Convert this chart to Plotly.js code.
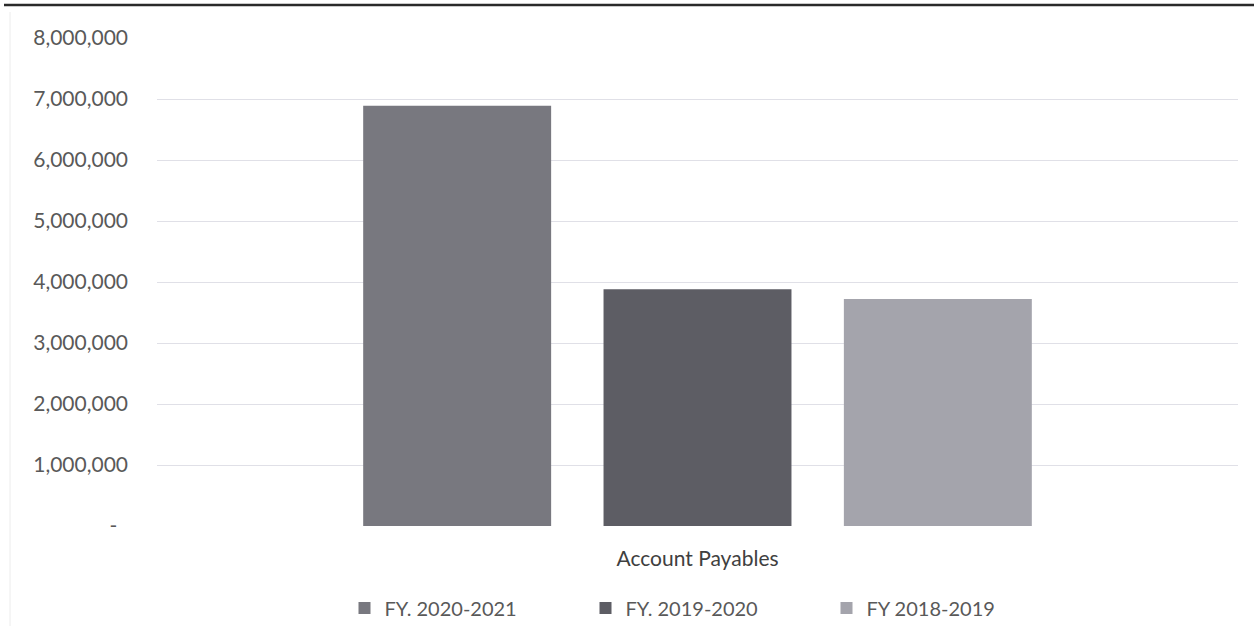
<!DOCTYPE html>
<html>
<head>
<meta charset="utf-8">
<script src="https://cdn.plot.ly/plotly-3.0.1.min.js"></script>
<style>
  html, body { margin: 0; padding: 0; background: #ffffff; }
  #chart { width: 1254px; height: 644px; }
</style>
</head>
<body>
<div id="chart"></div>
<script>
// Account payables by fiscal year
const categories = ["Account Payables"];
const seriesNames = ["FY. 2020-2021", "FY. 2019-2020", "FY 2018-2019"];
const fy2021 = [6890000];
const fy2020 = [3880000];
const fy2019 = [3720000];
const seriesColors = ["#78787f", "#5d5d64", "#a4a4ac"];

const yTickVals = [0, 1000000, 2000000, 3000000, 4000000, 5000000, 6000000, 7000000, 8000000];
const yTickText = ["-  ", "1,000,000", "2,000,000", "3,000,000", "4,000,000",
                   "5,000,000", "6,000,000", "7,000,000", "8,000,000"];

const seriesValues = [fy2021, fy2020, fy2019];
const traces = seriesValues.map((vals, i) => ({
  type: "bar",
  name: seriesNames[i],
  x: categories,
  y: vals,
  marker: { color: seriesColors[i], line: { width: 0 } },
  hoverinfo: "y+name"
}));

const W = 1254, H = 644;
const mL = 157, mR = 16, mT = 38, mB = 118;
const pw = W - mL - mR, ph = H - mT - mB;
const px = v => (v - mL) / pw;   // pixel -> paper x
const py = v => (H - mB - v) / ph; // pixel -> paper y

const layout = {
  width: W,
  height: H,
  margin: { l: mL, r: mR, t: mT, b: mB, pad: 0 },
  paper_bgcolor: "#ffffff",
  plot_bgcolor: "#ffffff",
  font: { family: "Lato, 'Open Sans', sans-serif", color: "#595959" },
  barmode: "group",
  bargap: 0.333,
  bargroupgap: 0.218,
  showlegend: true,
  legend: {
    orientation: "h",
    x: px(706),
    xanchor: "center",
    y: py(608),
    yanchor: "middle",
    font: { size: 20, color: "#595959" },
    entrywidth: 196,
    itemwidth: 30,
    traceorder: "normal"
  },
  xaxis: {
    type: "category",
    showgrid: false,
    showline: false,
    zeroline: false,
    ticks: "",
    ticklabelstandoff: 18,
    tickfont: { size: 21, color: "#404040" }
  },
  yaxis: {
    range: [0, 8000000],
    tickmode: "array",
    tickvals: yTickVals,
    ticktext: yTickText,
    showgrid: true,
    gridcolor: "#e0e0e7",
    gridwidth: 1,
    zeroline: false,
    showline: false,
    ticks: "",
    ticklabelstandoff: 28,
    tickfont: { size: 21, color: "#595959" }
  },
  shapes: [
    // heavy rule across the top of the page
    {
      type: "line", xref: "paper", yref: "paper",
      x0: px(4), x1: px(1254), y0: py(5), y1: py(5),
      line: { color: "#2a2a2a", width: 2.5 }
    },
    // faint frame edge on the left of the chart area
    {
      type: "line", xref: "paper", yref: "paper",
      x0: px(10), x1: px(10), y0: py(12), y1: py(626),
      line: { color: "#ececec", width: 1 }
    }
  ]
};

Plotly.newPlot("chart", traces, layout, { displayModeBar: false, staticPlot: true });
</script>
</body>
</html>
